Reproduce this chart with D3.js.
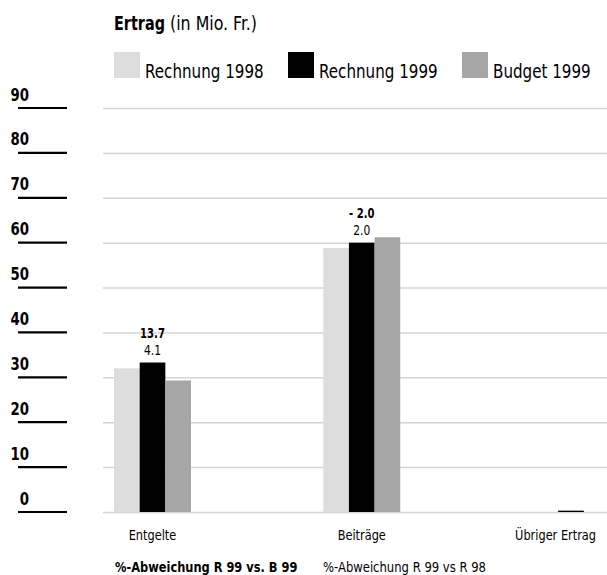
<!DOCTYPE html>
<html>
<head>
<meta charset="utf-8">
<script src="https://cdn.jsdelivr.net/npm/d3@7"></script>
<style>
  body { margin: 0; background: #fff; }
  svg { display: block; font-family: "DejaVu Sans Condensed", "Liberation Sans Narrow", sans-serif; }
</style>
</head>
<body>
<div id="chart"></div>
<script>
// data
var categories = ["Entgelte", "Beiträge", "Übriger Ertrag"];
var seriesNames = ["Rechnung 1998", "Rechnung 1999", "Budget 1999"];
var seriesColors = ["#dddddd", "#000000", "#a6a6a6"];
var rechnung1998 = [32.0, 58.8, 0];
var rechnung1999 = [33.3, 60.0, 0.3];
var budget1999 = [29.3, 61.2, 0];
var devVsBudget = ["13.7", "- 2.0", ""];
var devVsR98 = ["4.1", "2.0", ""];
var yTicks = [0, 10, 20, 30, 40, 50, 60, 70, 80, 90];

var series = [rechnung1998, rechnung1999, budget1999];

const width = 607, height = 575;
var svg = d3.select("#chart").append("svg")
  .attr("width", width)
  .attr("height", height);

// the reference uses a narrow face, so squeeze text to the measured width
function squeeze(sel, ratio) {
  sel.each(function() {
    var w = this.getComputedTextLength();
    if (w > 0) d3.select(this).attr("textLength", w * ratio).attr("lengthAdjust", "spacingAndGlyphs");
  });
}

var y = d3.scaleLinear().domain([0, 90]).range([512, 108]);
var x = d3.scalePoint().domain(categories).range([152.5, 571]);
var xs = d3.scaleBand().domain(d3.range(series.length)).range([-38.5, 38.5]);

// gridlines
svg.append("g").selectAll("line")
  .data(yTicks).enter()
  .append("line")
  .attr("x1", 103).attr("x2", 607)
  .attr("y1", d => y(d) + 0.5).attr("y2", d => y(d) + 0.5)
  .attr("stroke", "#d4d4d4")
  .attr("stroke-width", 1.5);

// left axis: short black rules with bold numbers above them
var axis = svg.append("g").selectAll("g")
  .data(yTicks).enter()
  .append("g")
  .attr("transform", d => "translate(0," + y(d) + ")");
axis.append("line")
  .attr("x1", 18).attr("x2", 67)
  .attr("stroke", "#000").attr("stroke-width", 2.2);
axis.append("text")
  .attr("x", 29).attr("y", -7.5)
  .attr("text-anchor", "end")
  .style("font-weight", "bold")
  .style("font-size", "18px")
  .text(d => d)
  .call(squeeze, 0.82);

// bars
var groups = svg.append("g").selectAll("g")
  .data(categories).enter()
  .append("g")
  .attr("transform", d => "translate(" + x(d) + ",0)");

groups.selectAll("rect")
  .data((c, i) => series.map((s, j) => ({ j: j, v: s[i] })))
  .enter()
  .append("rect")
  .attr("x", d => xs(d.j))
  .attr("width", xs.bandwidth())
  .attr("y", d => y(d.v))
  .attr("height", d => y(0) - y(d.v))
  .attr("fill", d => seriesColors[d.j]);

// deviation labels above the Rechnung 1999 bar
groups.append("text")
  .attr("x", 0)
  .attr("y", (c, i) => y(rechnung1999[i]) - 25)
  .attr("text-anchor", "middle")
  .style("font-weight", "bold")
  .style("font-size", "14px")
  .text((c, i) => devVsBudget[i])
  .call(squeeze, 0.8);
groups.append("text")
  .attr("x", 0)
  .attr("y", (c, i) => y(rechnung1999[i]) - 8)
  .attr("text-anchor", "middle")
  .style("font-size", "14px")
  .text((c, i) => devVsR98[i])
  .call(squeeze, 0.85);

// category labels
svg.append("g").selectAll("text")
  .data(categories).enter()
  .append("text")
  .attr("x", (d, i) => i == categories.length - 1 ? 596 : x(d))
  .attr("y", 540)
  .attr("text-anchor", (d, i) => i == categories.length - 1 ? "end" : "middle")
  .style("font-size", "14.5px")
  .text(d => d)
  .call(squeeze, 0.87);

// title, two parts each narrowed by a horizontal scale
svg.append("text")
  .attr("transform", "translate(114,30) scale(0.8,1)")
  .style("font-size", "20px")
  .style("font-weight", "bold")
  .text("Ertrag");
svg.append("text")
  .attr("transform", "translate(170,30) scale(0.88,1)")
  .style("font-size", "20px")
  .text("(in Mio. Fr.)");

// legend
var legendX = [114, 288, 462];
var legend = svg.append("g").selectAll("g")
  .data(seriesNames).enter()
  .append("g")
  .attr("transform", (d, i) => "translate(" + legendX[i] + ",52)");
legend.append("rect")
  .attr("width", 26).attr("height", 26)
  .attr("fill", (d, i) => seriesColors[i]);
legend.append("text")
  .attr("x", 31).attr("y", 26)
  .style("font-size", "19px")
  .text(d => d)
  .call(squeeze, 0.885);

// footer
svg.append("text")
  .attr("x", 115).attr("y", 572)
  .style("font-weight", "bold")
  .style("font-size", "14.5px")
  .text("%-Abweichung R 99 vs. B 99")
  .call(squeeze, 0.875);
svg.append("text")
  .attr("x", 323).attr("y", 572)
  .style("font-size", "14.5px")
  .text("%-Abweichung R 99 vs R 98")
  .call(squeeze, 0.89);
</script>
</body>
</html>
